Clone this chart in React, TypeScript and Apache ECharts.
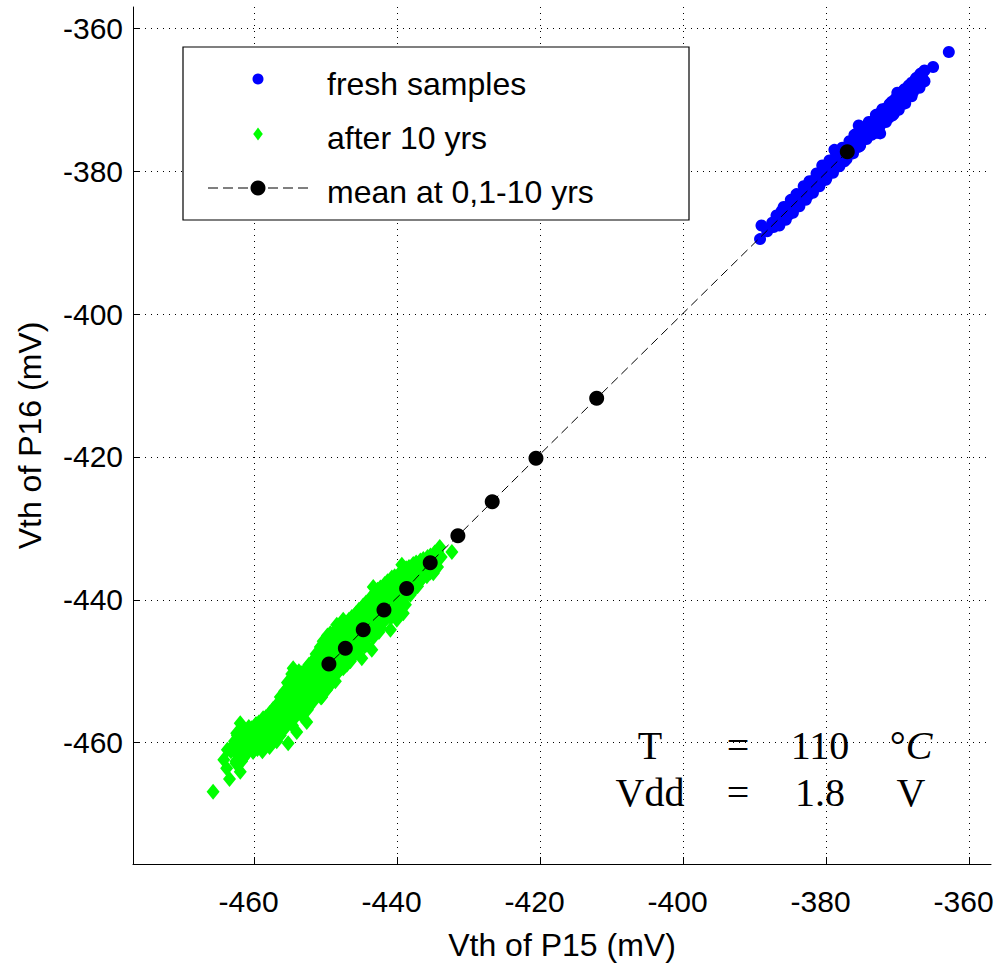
import React, { useEffect, useRef } from "react";
import * as echarts from "echarts";

const xTicks = [-460, -440, -420, -400, -380, -360];
const yTicks = [-460, -440, -420, -400, -380, -360];

const seriesNames = ["fresh samples", "after 10 yrs", "mean at 0,1-10 yrs"];

const freshSamples: [number, number][] = [
  [-389.3, -389.5], [-389.1, -387.6], [-388.3, -388.4], [-387.6, -387.2], [-387.4, -387.8],
  [-386.9, -386.6], [-386.5, -386.9], [-386.0, -386.2], [-385.6, -385.0], [-385.2, -385.7],
  [-384.8, -384.3], [-384.6, -385.1], [-384.1, -384.0], [-383.7, -383.3], [-383.5, -384.1],
  [-383.0, -382.6], [-382.8, -383.3], [-382.3, -381.8], [-382.1, -382.6], [-381.6, -381.1],
  [-381.4, -381.9], [-381.0, -380.6], [-380.7, -381.4], [-380.4, -379.8], [-380.2, -380.6],
  [-380.6, -379.2], [-379.8, -379.3], [-379.5, -380.1], [-379.2, -378.6], [-378.9, -377.0],
  [-378.8, -379.4], [-378.5, -378.0], [-378.2, -378.9], [-377.9, -377.3], [-377.6, -378.2],
  [-377.5, -378.6], [-377.4, -376.7], [-377.1, -377.6], [-376.8, -376.3], [-376.5, -377.2],
  [-376.2, -375.6], [-376.1, -374.9], [-376.0, -376.5], [-375.7, -375.2], [-375.5, -373.6],
  [-375.4, -375.9], [-375.3, -376.4], [-375.1, -374.6], [-374.9, -375.5], [-374.6, -374.1],
  [-374.3, -374.8], [-374.0, -373.5], [-373.8, -374.3], [-373.5, -373.0], [-373.2, -373.7],
  [-373.0, -374.6], [-372.5, -374.7], [-372.9, -372.4], [-372.6, -373.1], [-372.3, -371.8],
  [-372.2, -371.3], [-372.0, -372.6], [-371.7, -371.2], [-371.4, -371.9], [-371.3, -372.5],
  [-371.1, -370.6], [-370.8, -371.4], [-370.6, -372.0], [-370.5, -370.0], [-370.2, -370.8],
  [-370.1, -369.0], [-369.9, -369.5], [-369.6, -370.1], [-369.4, -370.6], [-369.4, -369.1],
  [-369.3, -368.8], [-369.0, -369.6], [-368.7, -368.3], [-368.4, -368.9], [-368.1, -367.6],
  [-368.0, -367.8], [-367.9, -368.9], [-367.8, -368.3], [-367.5, -367.0], [-367.2, -367.6],
  [-366.9, -366.4], [-366.6, -366.9], [-366.3, -365.9], [-365.1, -365.4], [-362.9, -363.3],
  [-387.0, -386.2], [-386.0, -385.0], [-385.0, -384.0], [-384.2, -383.2], [-383.2, -382.1],
  [-382.4, -381.4], [-381.4, -380.3], [-380.5, -379.5], [-379.6, -378.5], [-378.6, -377.6],
  [-377.8, -376.7], [-376.8, -375.8], [-375.9, -374.8], [-375.0, -374.0], [-374.1, -373.1],
  [-373.1, -372.1], [-372.2, -371.5], [-371.2, -370.6], [-370.3, -369.8], [-369.3, -368.9],
  [-368.5, -368.0], [-367.5, -367.1], [-366.8, -366.3],
  [-386.6, -387.6], [-385.7, -386.8], [-384.7, -385.8], [-383.8, -384.9], [-382.9, -384.0],
  [-381.9, -383.0], [-381.0, -382.1], [-380.1, -381.2], [-379.1, -380.2], [-378.2, -379.3],
  [-377.2, -378.3], [-376.3, -377.5], [-375.4, -376.5], [-374.4, -375.5], [-373.5, -374.7],
  [-372.6, -373.8], [-371.7, -373.1], [-370.8, -372.2], [-369.9, -371.4], [-369.0, -370.5],
  [-368.1, -369.5], [-367.0, -368.3], [-366.3, -367.4],
  [-386.3, -385.6], [-385.3, -386.1], [-383.9, -383.4], [-382.6, -383.4], [-381.2, -380.7],
  [-380.0, -380.9], [-379.0, -378.3], [-377.7, -378.6], [-376.6, -375.9], [-375.6, -376.6],
  [-374.5, -373.8], [-373.7, -374.9], [-372.7, -372.0], [-371.9, -373.0], [-370.9, -370.3],
  [-370.0, -371.1], [-369.1, -368.5], [-368.3, -369.2], [-367.4, -366.9], [-366.7, -367.6],
];

const after10Years: [number, number][] = [
  [-465.8, -466.9], [-463.5, -465.1], [-462.0, -464.1], [-455.3, -460.1],
  [-463.2, -460.6], [-462.5, -458.7], [-462.0, -462.0], [-454.1, -458.5], [-452.7, -457.1],
  [-454.6, -449.6], [-448.5, -443.5], [-447.6, -442.8], [-443.4, -438.2], [-439.4, -435.1],
  [-436.4, -436.5], [-435.0, -436.3], [-449.9, -452.6], [-450.6, -453.6], [-448.5, -450.3],
  [-447.1, -449.1], [-445.0, -448.2], [-443.6, -447.0], [-441.0, -444.2], [-439.2, -441.9],
  [-440.1, -442.8], [-434.1, -432.6],
  [-463.8, -461.0], [-464.3, -462.4], [-463.9, -463.6],
  [-462.8, -459.8], [-463.3, -461.2], [-462.6, -462.6],
  [-462.0, -457.3], [-462.2, -458.7], [-461.7, -460.0], [-462.4, -461.4], [-461.8, -462.6],
  [-460.8, -457.8], [-461.3, -459.1], [-460.6, -460.4], [-461.2, -461.7],
  [-459.8, -457.4], [-460.3, -458.7], [-459.6, -460.0], [-460.2, -461.3],
  [-458.8, -456.6], [-459.3, -457.9], [-458.6, -459.2], [-459.2, -460.5], [-458.9, -461.2],
  [-457.8, -455.8], [-458.3, -457.1], [-457.6, -458.4], [-458.2, -459.7], [-457.9, -460.6],
  [-456.8, -454.6], [-457.3, -455.9], [-456.6, -457.2], [-457.2, -458.5], [-456.9, -459.8],
  [-455.8, -452.8], [-456.3, -454.1], [-455.6, -455.4], [-456.2, -456.7], [-455.9, -458.0], [-456.4, -459.0],
  [-454.8, -450.4], [-455.3, -451.7], [-454.6, -453.0], [-455.2, -454.3], [-454.9, -455.6], [-455.4, -456.9], [-454.7, -457.6],
  [-453.8, -450.0], [-454.3, -451.3], [-453.6, -452.6], [-454.2, -453.9], [-453.9, -455.2], [-454.4, -456.5],
  [-452.8, -449.7], [-453.3, -451.0], [-452.6, -452.3], [-453.2, -453.6], [-452.9, -454.9], [-453.4, -456.2],
  [-451.8, -448.5], [-452.3, -449.8], [-451.6, -451.1], [-452.2, -452.4], [-451.9, -453.7], [-452.4, -455.0],
  [-450.8, -446.6], [-451.3, -447.9], [-450.6, -449.2], [-451.2, -450.5], [-450.9, -451.8], [-451.4, -453.1], [-450.7, -453.7],
  [-449.8, -445.0], [-450.3, -446.3], [-449.6, -447.6], [-450.2, -448.9], [-449.9, -450.2], [-450.4, -451.5], [-449.7, -452.3],
  [-448.8, -444.4], [-449.3, -445.7], [-448.6, -447.0], [-449.2, -448.3], [-448.9, -449.6], [-449.4, -450.9], [-448.7, -451.4],
  [-447.8, -443.7], [-448.3, -445.0], [-447.6, -446.3], [-448.2, -447.6], [-447.9, -448.9], [-448.4, -450.2],
  [-446.8, -442.8], [-447.3, -444.1], [-446.6, -445.4], [-447.2, -446.7], [-446.9, -448.0], [-447.4, -449.3],
  [-445.8, -441.9], [-446.3, -443.2], [-445.6, -444.5], [-446.2, -445.8], [-445.9, -447.1], [-446.4, -448.2],
  [-444.8, -440.8], [-445.3, -442.1], [-444.6, -443.4], [-445.2, -444.7], [-444.9, -446.0], [-445.4, -447.0],
  [-443.8, -439.8], [-444.3, -441.1], [-443.6, -442.4], [-444.2, -443.7], [-443.9, -445.0], [-444.4, -446.3],
  [-442.8, -438.6], [-443.3, -439.9], [-442.6, -441.2], [-443.2, -442.5], [-442.9, -443.8], [-443.4, -445.3],
  [-441.8, -437.8], [-442.3, -439.1], [-441.6, -440.4], [-442.2, -441.7], [-441.9, -443.0], [-442.4, -444.0],
  [-440.8, -436.9], [-441.3, -438.2], [-440.6, -439.5], [-441.2, -440.8], [-440.9, -442.5],
  [-439.8, -436.4], [-440.3, -437.7], [-439.6, -439.0], [-440.2, -440.3], [-439.9, -441.7],
  [-438.8, -435.6], [-439.3, -436.9], [-438.6, -438.2], [-439.2, -439.5], [-438.9, -440.7],
  [-437.8, -435.0], [-438.3, -436.3], [-437.6, -437.6], [-438.2, -439.3],
  [-436.8, -434.5], [-437.3, -435.8], [-436.6, -437.1], [-437.2, -438.1],
  [-435.8, -434.0], [-436.3, -435.3], [-435.9, -436.7],
  [-434.8, -433.4], [-435.3, -434.7], [-434.9, -436.0],
  [-433.9, -434.0], [-432.4, -433.3],
  [-462.4, -459.0], [-462.6, -460.3], [-462.4, -461.6], [-462.6, -462.9],
  [-461.4, -458.4], [-461.6, -459.7], [-461.4, -461.0], [-461.6, -462.2],
  [-460.4, -458.0], [-460.6, -459.3], [-460.4, -460.6],
  [-459.4, -457.2], [-459.6, -458.5], [-459.4, -459.8], [-459.6, -460.9],
  [-458.4, -456.4], [-458.6, -457.7], [-458.4, -459.0], [-458.6, -460.2],
  [-457.4, -455.3], [-457.6, -456.6], [-457.4, -457.9], [-457.6, -459.2],
  [-456.4, -453.6], [-456.6, -454.9], [-456.4, -456.2], [-456.6, -457.5], [-456.4, -458.6],
  [-455.4, -451.6], [-455.6, -452.9], [-455.4, -454.2], [-455.6, -455.5], [-455.4, -456.8], [-455.6, -457.8],
  [-454.4, -450.6], [-454.6, -451.9], [-454.4, -453.2], [-454.6, -454.5], [-454.4, -455.8], [-454.6, -456.8],
  [-453.4, -450.3], [-453.6, -451.6], [-453.4, -452.9], [-453.6, -454.2], [-453.4, -455.5],
  [-452.4, -449.1], [-452.6, -450.4], [-452.4, -451.7], [-452.6, -453.0], [-452.4, -454.3], [-452.6, -455.4],
  [-451.4, -447.6], [-451.6, -448.9], [-451.4, -450.2], [-451.6, -451.5], [-451.4, -452.8], [-451.6, -454.0],
  [-450.4, -445.8], [-450.6, -447.1], [-450.4, -448.4], [-450.6, -449.7], [-450.4, -451.0], [-450.6, -452.3],
  [-449.4, -444.7], [-449.6, -446.0], [-449.4, -447.3], [-449.6, -448.6], [-449.4, -449.9], [-449.6, -451.2],
  [-448.4, -444.0], [-448.6, -445.3], [-448.4, -446.6], [-448.6, -447.9], [-448.4, -449.2], [-448.6, -450.5],
  [-447.4, -443.3], [-447.6, -444.6], [-447.4, -445.9], [-447.6, -447.2], [-447.4, -448.5], [-447.6, -449.6],
  [-446.4, -442.4], [-446.6, -443.7], [-446.4, -445.0], [-446.6, -446.3], [-446.4, -447.6], [-446.6, -448.6],
  [-445.4, -441.4], [-445.6, -442.7], [-445.4, -444.0], [-445.6, -445.3], [-445.4, -446.6],
  [-444.4, -440.4], [-444.6, -441.7], [-444.4, -443.0], [-444.6, -444.3], [-444.4, -445.6], [-444.6, -446.5],
  [-443.4, -439.3], [-443.6, -440.6], [-443.4, -441.9], [-443.6, -443.2], [-443.4, -444.5],
  [-442.4, -438.3], [-442.6, -439.6], [-442.4, -440.9], [-442.6, -442.2], [-442.4, -443.5], [-442.6, -444.5],
  [-441.4, -437.4], [-441.6, -438.7], [-441.4, -440.0], [-441.6, -441.3], [-441.4, -442.4],
  [-440.4, -436.7], [-440.6, -438.0], [-440.4, -439.3], [-440.6, -440.6], [-440.4, -441.8],
  [-439.4, -436.0], [-439.6, -437.3], [-439.4, -438.6], [-439.6, -439.9], [-439.4, -440.9],
  [-438.4, -435.4], [-438.6, -436.7], [-438.4, -438.0], [-438.6, -439.2],
  [-437.4, -434.8], [-437.6, -436.1], [-437.4, -437.4], [-437.6, -438.4],
  [-436.4, -434.3], [-436.6, -435.6], [-436.4, -436.8],
  [-435.4, -433.8], [-435.6, -435.0], [-435.4, -436.2],
  [-434.4, -433.2], [-434.6, -434.4], [-434.4, -435.4],
];

const meanX = [-377.1, -412.15, -420.64, -426.76, -431.56, -435.43, -438.73, -441.9, -444.8, -447.3, -449.6];
const meanY = [-377.26, -411.8, -420.19, -426.27, -431.05, -434.81, -438.42, -441.45, -444.2, -446.8, -449.0];

const annotationRows = [
  ["T", "=", "110", "°{i|C}"],
  ["Vdd", "=", "1.8", "V"],
];

const SANS = "'Liberation Sans', Arial, Helvetica, sans-serif";
const SERIF = "'Liberation Serif', 'DejaVu Serif', serif";

export default function App() {
  const ref = useRef<HTMLDivElement>(null);

  useEffect(() => {
    if (!ref.current) return;
    const chart = echarts.init(ref.current, undefined, { renderer: "svg" });

    const colX = [650, 738, 820, 911];
    const rowY = [745, 792];
    const annotation: any[] = [];
    annotationRows.forEach((row, ri) => {
      row.forEach((t, ci) => {
        annotation.push({
          type: "text",
          x: colX[ci],
          y: rowY[ri],
          z: 10,
          style: {
            text: t,
            fontFamily: SERIF,
            fontSize: 40,
            fill: "#000",
            align: "center",
            verticalAlign: "middle",
            rich: {
              i: { fontFamily: SERIF, fontSize: 40, fontStyle: "italic", fill: "#000" },
            },
          },
        });
      });
    });

    const legendRowY = [79, 134, 188];
    const legendTextY = [84, 138, 192];
    const legendIconX = 258;
    const legendTextX = 327;
    const legendGraphics: any[] = [
      {
        type: "rect",
        z: 3,
        shape: { x: 183, y: 47, width: 506, height: 173 },
        style: { fill: "#fff", stroke: "#000", lineWidth: 1.2 },
      },
      {
        type: "circle",
        z: 4,
        shape: { cx: legendIconX, cy: legendRowY[0], r: 5.5 },
        style: { fill: "#0000ff" },
      },
      {
        type: "polygon",
        z: 4,
        shape: {
          points: [
            [legendIconX, legendRowY[1] - 6.5],
            [legendIconX + 4.8, legendRowY[1]],
            [legendIconX, legendRowY[1] + 6.5],
            [legendIconX - 4.8, legendRowY[1]],
          ],
        },
        style: { fill: "#00ff00" },
      },
      {
        type: "line",
        z: 4,
        shape: { x1: 208, y1: legendRowY[2], x2: 313, y2: legendRowY[2] },
        style: { stroke: "#000", lineWidth: 1, lineDash: [10, 5] },
      },
      {
        type: "circle",
        z: 4,
        shape: { cx: legendIconX, cy: legendRowY[2], r: 7.5 },
        style: { fill: "#000" },
      },
      ...seriesNames.map((n, i) => ({
        type: "text",
        z: 4,
        x: legendTextX,
        y: legendTextY[i],
        style: {
          text: n,
          fontFamily: SANS,
          fontSize: 32,
          fill: "#000",
          align: "left",
          verticalAlign: "middle",
        },
      })),
    ];

    const option: any = {
      animation: false,
      backgroundColor: "#fff",
      grid: { left: 133, top: 7, width: 858, height: 857, containLabel: false, outerBoundsMode: "none" },
      xAxis: {
        type: "value",
        min: -477,
        max: -357,
        name: "Vth of P15 (mV)",
        nameLocation: "middle",
        nameGap: 65,
        nameTextStyle: { fontFamily: SANS, fontSize: 32, color: "#000" },
        axisLine: { show: true, onZero: false, lineStyle: { color: "#000", width: 1 } },
        axisTick: { show: true, inside: true, length: 7, customValues: xTicks, lineStyle: { color: "#000" } },
        axisLabel: {
          customValues: xTicks,
          fontFamily: SANS,
          fontSize: 30,
          color: "#000",
          margin: 22,
          padding: [0, 12, 0, 0],
        },
        splitLine: { show: true, lineStyle: { color: "#000", type: [1, 5], width: 1 } },
      },
      yAxis: {
        type: "value",
        min: -477,
        max: -357,
        name: "Vth of P16 (mV)",
        nameLocation: "middle",
        nameGap: 87,
        nameTextStyle: { fontFamily: SANS, fontSize: 32, color: "#000" },
        axisLine: { show: true, onZero: false, lineStyle: { color: "#000", width: 1 } },
        axisTick: { show: true, inside: true, length: 7, customValues: yTicks, lineStyle: { color: "#000" } },
        axisLabel: {
          customValues: yTicks,
          fontFamily: SANS,
          fontSize: 30,
          color: "#000",
          margin: 10,
          padding: [6, 0, 0, 0],
        },
        splitLine: { show: true, lineStyle: { color: "#000", type: [1, 5], width: 1 } },
      },
      graphic: [...legendGraphics, ...annotation],
      series: [
        {
          name: seriesNames[0],
          type: "scatter",
          symbol: "circle",
          symbolSize: 12,
          itemStyle: { color: "#0000ff", opacity: 1 },
          data: freshSamples,
          z: 2,
        },
        {
          name: seriesNames[1],
          type: "scatter",
          symbol: "diamond",
          symbolSize: [13, 16],
          itemStyle: { color: "#00ff00", opacity: 1 },
          data: after10Years,
          z: 2,
        },
        {
          name: seriesNames[2],
          type: "line",
          symbol: "circle",
          symbolSize: 15,
          showSymbol: true,
          itemStyle: { color: "#000" },
          lineStyle: { color: "#000", width: 1, type: [9, 5] },
          data: meanX.map((x, i) => [x, meanY[i]]),
          z: 3,
        },
      ],
    };

    chart.setOption(option);
    return () => chart.dispose();
  }, []);

  return (
    <div
      ref={ref}
      style={{ position: "absolute", left: 0, top: 0, width: 996, height: 966 }}
    />
  );
}
